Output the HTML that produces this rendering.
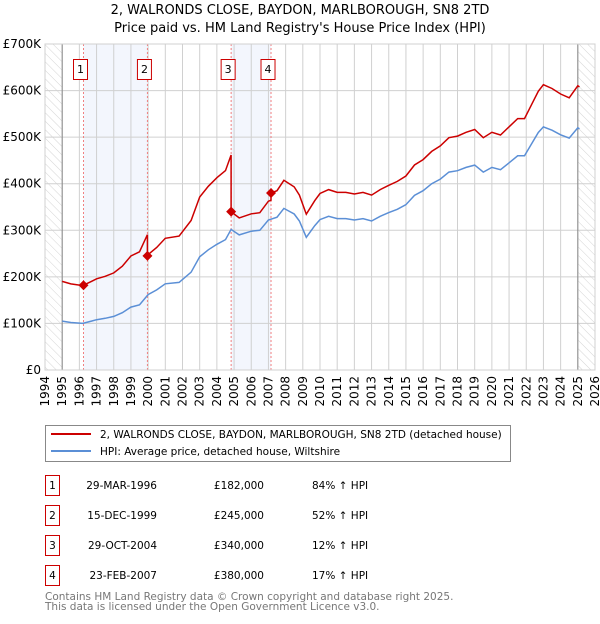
<!DOCTYPE html>
<html><head><meta charset="utf-8"><style>
body{margin:0;background:#fff;font-family:"DejaVu Sans","Liberation Sans",sans-serif}
svg text{font-family:"DejaVu Sans","Liberation Sans",sans-serif}
</style></head><body>
<svg id="c" width="600" height="620" xmlns="http://www.w3.org/2000/svg">
<defs><pattern id="hatch" width="6" height="6" patternUnits="userSpaceOnUse" patternTransform="rotate(-45)"><line x1="0" y1="0" x2="0" y2="6" stroke="#d4d4d4" stroke-width="1"/></pattern></defs>
<text x="300" y="14" text-anchor="middle" font-size="13">2, WALRONDS CLOSE, BAYDON, MARLBOROUGH, SN8 2TD</text>
<text x="300" y="32" text-anchor="middle" font-size="13">Price paid vs. HM Land Registry's House Price Index (HPI)</text>
<g id="plot"></g>
<g>
<rect x="45.5" y="425.5" width="465" height="36" fill="#fff" stroke="#888"/>
<line x1="51" y1="434" x2="91" y2="434" stroke="#cc0000" stroke-width="2"/>
<text x="100" y="438" font-size="10.5">2, WALRONDS CLOSE, BAYDON, MARLBOROUGH, SN8 2TD (detached house)</text>
<line x1="51" y1="451" x2="91" y2="451" stroke="#5b8fd6" stroke-width="2"/>
<text x="100" y="455" font-size="10.5">HPI: Average price, detached house, Wiltshire</text>
</g>
<g id="table" font-size="10.5"></g>
<text x="45" y="600" font-size="10.5" fill="#777">Contains HM Land Registry data © Crown copyright and database right 2025.</text>
<text x="45" y="610" font-size="10.5" fill="#777">This data is licensed under the Open Government Licence v3.0.</text>
</svg>
<script>
const hpiYears=[1995,1995.5,1996.2,1996.7,1997,1997.5,1998,1998.5,1999,1999.5,2000,2000.5,2001,2001.8,2002.5,2003,2003.5,2004,2004.5,2004.83,2005.3,2006,2006.5,2007,2007.5,2007.9,2008.5,2008.8,2009.2,2009.7,2010,2010.5,2011,2011.5,2012,2012.5,2013,2013.5,2014,2014.5,2015,2015.5,2016,2016.5,2017,2017.5,2018,2018.5,2019,2019.5,2020,2020.5,2021,2021.5,2021.9,2022.3,2022.7,2023,2023.5,2024,2024.5,2025,2025.1];
const hpiValues=[105,102,100,105,108,111,115,123,135,140,162,172,185,188,210,243,258,270,280,302,290,298,300,322,328,347,335,320,285,310,323,330,325,325,322,325,320,330,338,345,355,375,385,400,410,425,428,435,440,425,435,430,445,460,460,485,510,522,515,505,498,520,518];
const saleYears=[1996.24,1999.96,2004.83,2007.15];
const salePrices=[182,245,340,380];
const saleLabels=["1","2","3","4"];
const saleDates=["29-MAR-1996","15-DEC-1999","29-OCT-2004","23-FEB-2007"];
const salePriceText=["£182,000","£245,000","£340,000","£380,000"];
const salePct=["84% ↑ HPI","52% ↑ HPI","12% ↑ HPI","17% ↑ HPI"];
const yTicks=[0,100,200,300,400,500,600,700];
const yTickLabels=["£0","£100K","£200K","£300K","£400K","£500K","£600K","£700K"];
const xTicks=[1994,1995,1996,1997,1998,1999,2000,2001,2002,2003,2004,2005,2006,2007,2008,2009,2010,2011,2012,2013,2014,2015,2016,2017,2018,2019,2020,2021,2022,2023,2024,2025,2026];

const NS="http://www.w3.org/2000/svg";
const X0=45,X1=595,Y0=370,Y1=44;
const xs=y=>X0+(y-1994)/(2026-1994)*(X1-X0);
const ys=v=>Y0-v/700*(Y0-Y1);
function mk(tag,attrs,parent){const e=document.createElementNS(NS,tag);for(const k in attrs)e.setAttribute(k,attrs[k]);parent.appendChild(e);return e;}
function hpiAt(t){for(let i=0;i<hpiYears.length-1;i++){if(t>=hpiYears[i]&&t<=hpiYears[i+1]){const f=(t-hpiYears[i])/(hpiYears[i+1]-hpiYears[i]);return hpiValues[i]+f*(hpiValues[i+1]-hpiValues[i]);}}return t<hpiYears[0]?hpiValues[0]:hpiValues[hpiValues.length-1];}
const g=document.getElementById('plot');
for(let i=0;i<saleYears.length;i+=2){
const r=mk('rect',{x:xs(saleYears[i]),y:Y1,width:xs(saleYears[i+1])-xs(saleYears[i]),height:Y0-Y1,fill:'#f3f6fd'},g);


}
const h1=mk('rect',{x:X0,y:Y1,width:xs(1995)-X0,height:Y0-Y1,fill:'url(#hatch)'},g);


const h2=mk('rect',{x:xs(2025),y:Y1,width:X1-xs(2025),height:Y0-Y1,fill:'url(#hatch)'},g);


xTicks.forEach(t=>{
const l=mk('line',{x1:xs(t),x2:xs(t),y1:Y1,y2:Y0,stroke:'#d0d0d0','stroke-width':1},g);


const tx=mk('text',{x:0,y:0,'font-size':12,'text-anchor':'end',transform:`translate(${xs(t)+4},${Y0+6}) rotate(-90)`},g);
tx.textContent=t;


});
yTicks.forEach((t,i)=>{
const l=mk('line',{x1:X0,x2:X1,y1:ys(t),y2:ys(t),stroke:'#d0d0d0','stroke-width':1},g);


const tx=mk('text',{x:X0-4,y:ys(t)+4,'font-size':12,'text-anchor':'end'},g);
tx.textContent=yTickLabels[i];


});
[1995,2025].forEach(t=>{const l=mk('line',{x1:xs(t),x2:xs(t),y1:Y1,y2:Y0,stroke:'#888','stroke-width':1},g);

});
saleYears.forEach((s,i)=>{
const l=mk('line',{x1:xs(s),x2:xs(s),y1:Y1,y2:Y0,stroke:'#f08080','stroke-width':1,'stroke-dasharray':'2,2'},g);


const cx=xs(s)-3;
const bx=mk('rect',{x:cx-7,y:59.5,width:14,height:20,fill:'#fff',stroke:'#cc0000'},g);


const t=mk('text',{x:cx,y:73,'font-size':11,'text-anchor':'middle'},g);
t.textContent=saleLabels[i];


});
let d='';hpiYears.forEach((y,i)=>{d+=(i?'L':'M')+xs(y).toFixed(1)+','+ys(hpiValues[i]).toFixed(1);});
const hp=mk('path',{d:d,fill:'none',stroke:'#5b8fd6','stroke-width':1.5},g);


function ratioAt(t){let k=0;for(let i=0;i<saleYears.length;i++)if(t>=saleYears[i])k=i;return salePrices[k]/hpiAt(saleYears[k]);}
const pts=[];
const times=hpiYears.concat(saleYears).sort((a,b)=>a-b);
times.forEach(t=>{
const si=saleYears.indexOf(t);
if(si>0){pts.push([t,hpiAt(t)*salePrices[si-1]/hpiAt(saleYears[si-1])]);}
pts.push([t,hpiAt(t)*ratioAt(t)]);
});
let d2='';pts.forEach((p,i)=>{d2+=(i?'L':'M')+xs(p[0]).toFixed(1)+','+ys(p[1]).toFixed(1);});
const pp=mk('path',{d:d2,fill:'none',stroke:'#cc0000','stroke-width':1.5},g);


saleYears.forEach((s,i)=>{
const cx=xs(s),cy=ys(salePrices[i]);
const m=mk('path',{d:`M${cx},${cy-5}L${cx+5},${cy}L${cx},${cy+5}L${cx-5},${cy}Z`,fill:'#cc0000'},g);


});
mk('rect',{x:X0,y:Y1,width:X1-X0,height:Y0-Y1,fill:'none',stroke:'#d0d0d0'},g);
const tb=document.getElementById('table');
saleYears.forEach((s,i)=>{
const yy=475+i*30;
const b=mk('rect',{x:45.5,y:yy+0.5,width:14,height:20,fill:'#fff',stroke:'#cc0000'},tb);


const t0=mk('text',{x:52.5,y:yy+14,'text-anchor':'middle'},tb);t0.textContent=saleLabels[i];


const t1=mk('text',{x:157,y:yy+14,'text-anchor':'end'},tb);t1.textContent=saleDates[i];


const t2=mk('text',{x:264,y:yy+14,'text-anchor':'end'},tb);t2.textContent=salePriceText[i];


const t3=mk('text',{x:312,y:yy+14},tb);t3.textContent=salePct[i];


});
</script>
</body></html>
